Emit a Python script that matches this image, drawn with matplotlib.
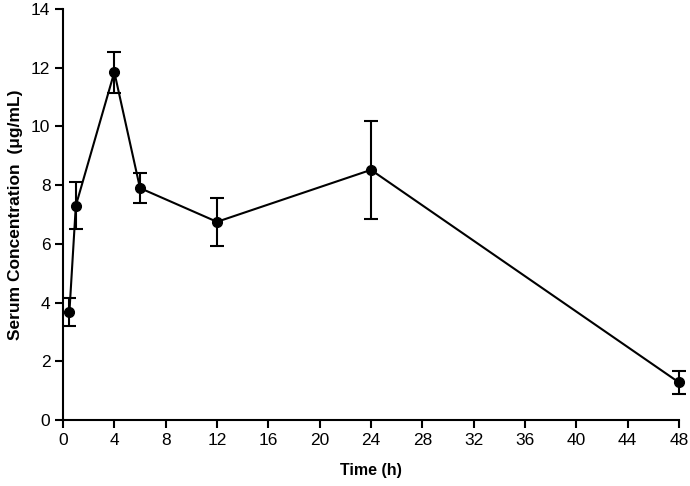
import matplotlib
matplotlib.use("Agg")
import matplotlib.pyplot as plt

time_h = [0.5, 1, 4, 6, 12, 24, 48]
conc = [3.68, 7.30, 11.85, 7.90, 6.75, 8.52, 1.28]
sd = [0.48, 0.80, 0.70, 0.52, 0.82, 1.66, 0.38]
x_ticks = list(range(0, 49, 4))
y_ticks = list(range(0, 15, 2))

plt.rcParams['font.family'] = ['Liberation Sans', 'DejaVu Sans']

fig = plt.figure(figsize=(6.9, 4.86), dpi=100)
ax = fig.add_axes([0.0913, 0.1358, 0.8927, 0.8457])

ax.errorbar(time_h, conc, yerr=sd, color='black', marker='o', markersize=7,
            linewidth=1.5, elinewidth=1.5, capsize=5, capthick=1.5, clip_on=False)

ax.set_xlim(0, 48)
ax.set_ylim(0, 14)
ax.set_xticks(x_ticks)
ax.set_yticks(y_ticks)
for s in ['top', 'right']:
    ax.spines[s].set_visible(False)
for s in ['left', 'bottom']:
    ax.spines[s].set_linewidth(1.5)
ax.tick_params(direction='out', length=6, width=1.5, labelsize=12.5, pad=3)
ax.set_xlabel('Time (h)', fontsize=11.5, fontweight='bold', labelpad=11)
ax.set_ylabel('Serum Concentration  (\u03bcg/mL)', fontsize=12.5, fontweight='bold', labelpad=6)

fig.savefig('out.png', dpi=100)
